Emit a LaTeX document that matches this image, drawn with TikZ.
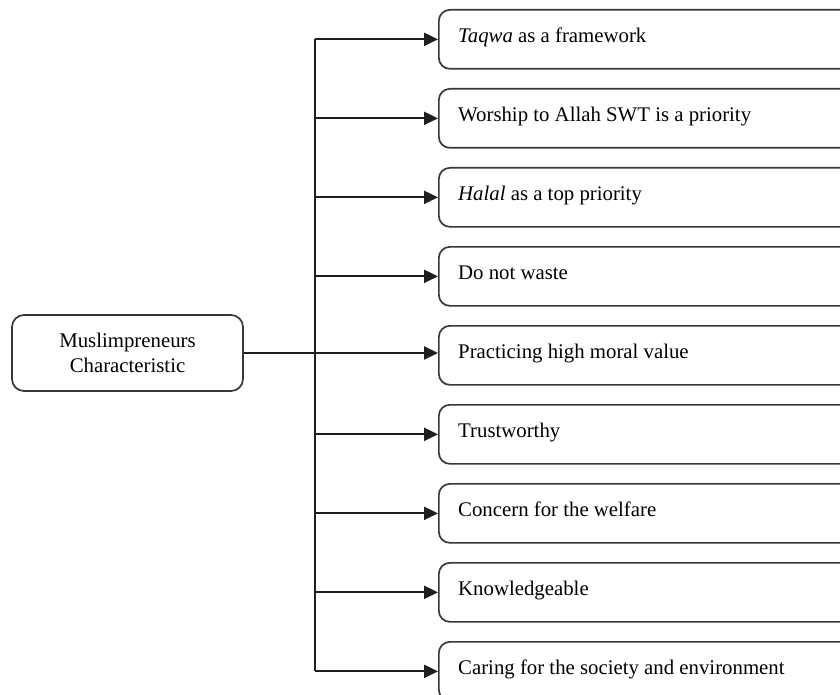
\documentclass[tikz,border=0pt]{standalone}
\usepackage{fontspec}
\setmainfont{Liberation Serif}
\usetikzlibrary{arrows.meta}
\begin{document}
\begin{tikzpicture}[x=1pt,y=-1pt,
  box/.style={draw=black!78,line width=1.7pt,rounded corners=11pt,minimum width=440pt,minimum height=59pt,anchor=north west,inner sep=0pt},
  mainbox/.style={draw=black!78,line width=1.7pt,rounded corners=12pt,minimum width=231pt,minimum height=76pt,inner sep=0pt,align=center,font=\fontsize{20.8}{25}\selectfont},
  txt/.style={anchor=base west,inner sep=0pt,font=\fontsize{20.8}{25}\selectfont},
  conn/.style={draw=black!88,line width=2.2pt},
  arr/.style={conn,-{Triangle[length=14pt,width=13pt]}}]
\useasboundingbox (0,0) rectangle (840,695);
\clip (0,0) rectangle (840,695);
\fill[white] (0,0) rectangle (840,695);
\foreach \i/\t in {1/{\textit{Taqwa} as a framework},2/{Worship to Allah SWT is a priority},3/{\textit{Halal} as a top priority},4/{Do not waste},5/{Practicing high moral value},6/{Trustworthy},7/{Concern for the welfare},8/{Knowledgeable},9/{Caring for the society and environment}}{
  \node[box] (b\i) at (438,{9+(\i-1)*79}) {};
  \node[txt] (l\i) at ([shift={(20,3.5)}]b\i.west) {\t};
}
\node[mainbox] (m) at (127.5,353) {Muslimpreneurs\\Characteristic};
\coordinate (tr) at (315,0);
\draw[conn] (tr |- b1.west) -- (tr |- b9.west);
\foreach \i in {1,2,3,4,6,7,8,9}{
  \draw[arr] (tr |- b\i.west) -- (b\i.west);
}
\draw[arr] (m.east) -- (m.east -| b5.west);
\end{tikzpicture}
\end{document}
